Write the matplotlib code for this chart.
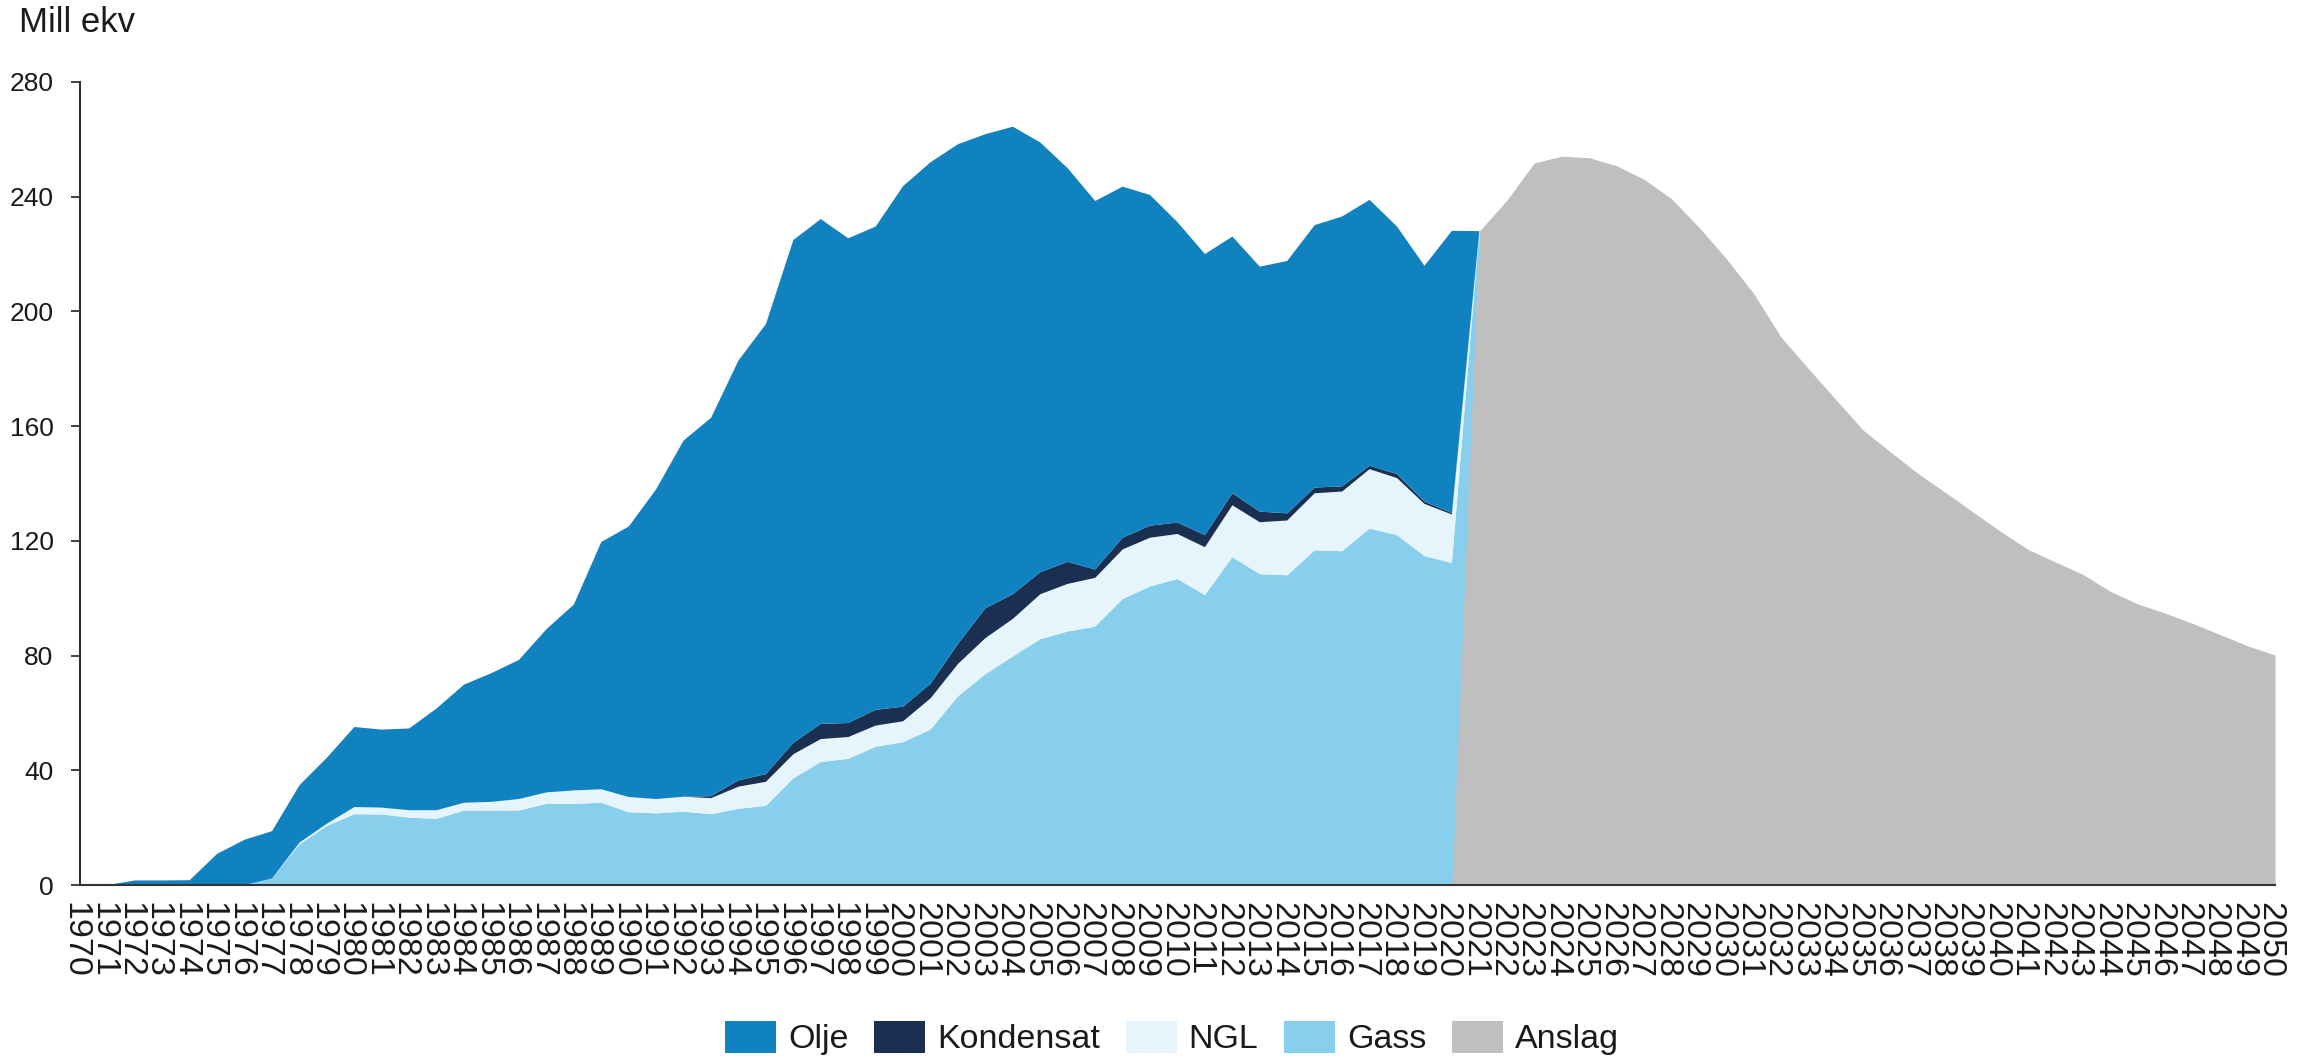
import numpy as np
import matplotlib
matplotlib.use("Agg")
import matplotlib.pyplot as plt
from matplotlib.patches import Patch
from matplotlib.transforms import ScaledTranslation

plt.rcParams['font.family'] = ['Liberation Sans', 'DejaVu Sans']

# historical production 1970-2021 (mill. Sm3 o.e.)
hist_years = list(range(1970, 2022))
gass = [0, 0, 0, 0, 0, 0, 0, 2.3, 14.2, 20.6,
        24.7, 24.6, 23.5, 23.1, 26.0, 26.0, 26.0, 28.3, 28.3, 28.7,
        25.4, 25.0, 25.6, 24.7, 26.6, 27.6, 37.2, 42.9, 44.0, 48.2,
        49.8, 54.2, 65.8, 73.5, 79.7, 85.7, 88.4, 90.1, 99.7, 104.1,
        106.7, 101.1, 114.3, 108.4, 108.0, 116.7, 116.4, 124.3, 122.0, 114.7,
        112.3, 228.0]
ngl = [0, 0, 0, 0, 0, 0, 0, 0, 0.6, 0.8,
       2.5, 2.4, 2.6, 3.0, 2.7, 3.0, 4.0, 4.0, 4.7, 4.7,
       5.3, 5.0, 5.2, 5.6, 7.7, 8.4, 8.4, 8.0, 7.6, 7.4,
       7.3, 10.9, 11.3, 12.6, 13.1, 15.7, 16.6, 17.0, 17.3, 17.0,
       15.7, 16.7, 18.1, 18.1, 19.1, 19.9, 20.8, 20.7, 19.9, 18.2,
       16.9, 0]
kondensat = [0, 0, 0, 0, 0, 0, 0, 0, 0, 0,
             0, 0, 0, 0, 0, 0, 0, 0, 0, 0,
             0, 0, 0, 0.7, 2.2, 2.7, 4.0, 5.3, 4.9, 5.5,
             5.1, 5.1, 7.0, 10.4, 8.6, 7.7, 7.7, 2.9, 4.1, 4.2,
             4.0, 4.2, 4.2, 3.7, 2.5, 2.0, 1.8, 1.2, 1.4, 0.8,
             0.5, 0]
olje = [0, 0, 1.6, 1.6, 1.7, 10.9, 15.8, 16.5, 20.0, 23.0,
        27.9, 27.2, 28.5, 35.5, 41.2, 44.9, 48.5, 56.9, 64.8, 86.2,
        94.3, 108.0, 124.2, 131.9, 146.4, 156.9, 175.3, 176.0, 169.0, 168.5,
        181.5, 181.8, 174.2, 165.3, 163.0, 149.8, 137.2, 128.5, 122.4, 115.3,
        104.7, 98.0, 89.5, 85.4, 88.0, 91.5, 94.1, 92.7, 86.3, 82.2,
        98.4, 0]

# forecast 2020-2050
anslag_years = list(range(2020, 2051))
anslag = [0, 228.0, 238.7, 251.8, 254.1, 253.6, 250.8, 246.1, 239.3, 229.4,
          218.4, 206.2, 191.0, 180.0, 169.2, 158.5, 150.9, 143.4, 136.8, 130.0,
          123.3, 117.0, 112.6, 108.3, 102.4, 98.0, 94.8, 91.2, 87.3, 83.4,
          80.2]

labels = ['Olje', 'Kondensat', 'NGL', 'Gass', 'Anslag']
colors = {'Olje': '#1182C0', 'Kondensat': '#1B2F50', 'NGL': '#E6F4FB',
          'Gass': '#87CFED', 'Anslag': '#BFBFBF'}

fig = plt.figure(figsize=(23.05, 10.63), dpi=100)
ax = fig.add_axes([0.0347, 0.1674, 0.9523, 0.7555])

ax.stackplot(hist_years, gass, ngl, kondensat, olje,
             colors=[colors['Gass'], colors['NGL'], colors['Kondensat'], colors['Olje']],
             linewidth=0, zorder=1)
ax.fill_between(anslag_years, 0, anslag, color=colors['Anslag'], linewidth=0, zorder=2)

ax.set_xlim(1970, 2050)
ax.set_ylim(0, 280)
ax.set_yticks(range(0, 281, 40))
ax.set_xticks(range(1970, 2051))
ax.set_xticklabels([str(y) for y in range(1970, 2051)], rotation=-90,
                   fontsize=24.5, color='#1a1a1a')
ax.tick_params(axis='x', length=0, pad=12)
ax.tick_params(axis='y', length=6.5, width=1.3, color='#333333', pad=12.5,
               labelsize=19, labelcolor='#1a1a1a')

offset = ScaledTranslation(-5 / 100, 0, fig.dpi_scale_trans)
for lab in ax.get_xticklabels():
    lab.set_transform(lab.get_transform() + offset)

for side in ['top', 'right']:
    ax.spines[side].set_visible(False)
for side in ['left', 'bottom']:
    ax.spines[side].set_linewidth(1.5)
    ax.spines[side].set_color('#333333')
    ax.spines[side].set_zorder(5)

fig.text(19 / 2305, 1 - 6 / 1063, 'Mill ekv', fontsize=25, ha='left', va='top', color='#1a1a1a')

handles = [Patch(facecolor=colors[k], edgecolor='none', label=k) for k in labels]
fig.legend(handles=handles, loc='center', bbox_to_anchor=(0.5085, 0.0235), ncol=5,
           frameon=False, fontsize=24.5, handlelength=1.5, handleheight=1.1,
           handletextpad=0.35, columnspacing=0.75, labelcolor='#1a1a1a')

fig.savefig('out.png', dpi=100)
